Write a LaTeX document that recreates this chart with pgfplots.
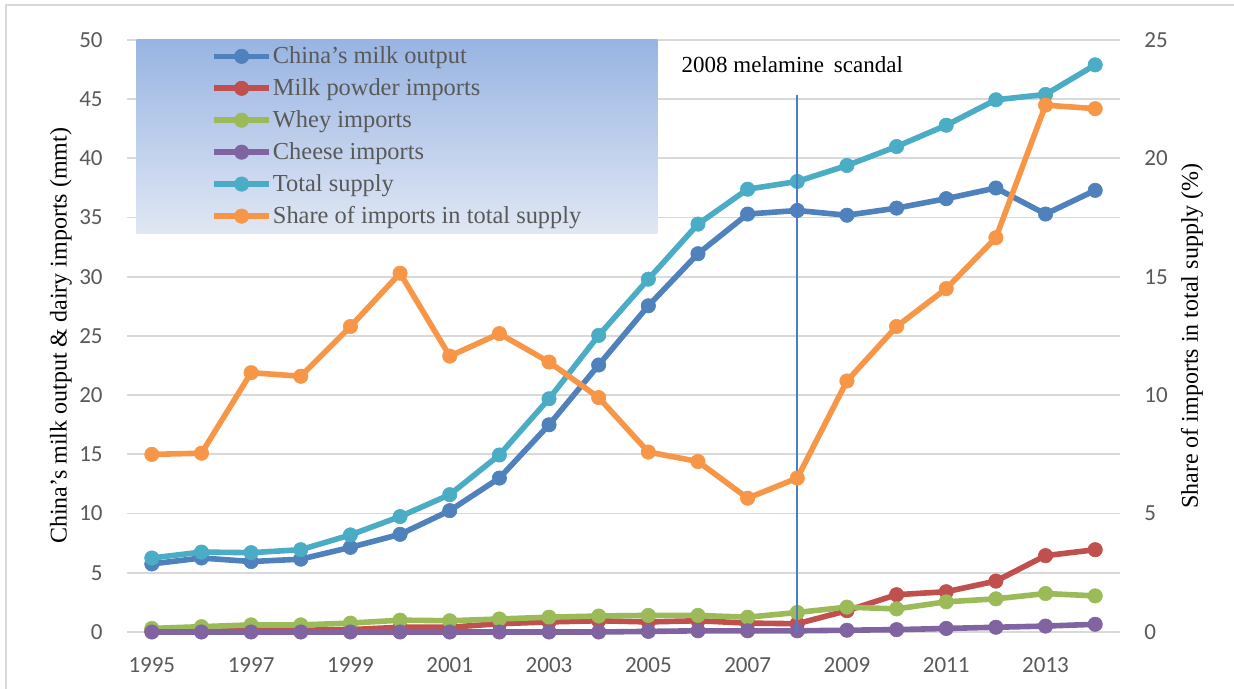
\documentclass[border=0pt]{standalone}
\usepackage{pgfplots}
\pgfplotsset{compat=1.18}
\usepackage{fontspec}
\setmainfont{Liberation Serif}
\newfontfamily\calibri{Carlito}

\definecolor{cMilk}{HTML}{4F81BD}
\definecolor{cPowder}{HTML}{C0504D}
\definecolor{cWhey}{HTML}{9BBB59}
\definecolor{cCheese}{HTML}{8064A2}
\definecolor{cTotal}{HTML}{4BACC6}
\definecolor{cShare}{HTML}{F79646}
\definecolor{gridgray}{HTML}{D9D9D9}
\definecolor{ticktext}{HTML}{595959}
\definecolor{scandal}{HTML}{4A7EC8}
\definecolor{legtop}{RGB}{152,180,226}
\definecolor{legbot}{RGB}{224,231,244}

% values (mmt); share in %
\pgfplotstableread{
year  milk   powder whey  cheese total  share
1995  5.75   0.10   0.30  0.00   6.25   7.50
1996  6.25   0.10   0.45  0.00   6.75   7.55
1997  5.95   0.15   0.60  0.00   6.70   10.95
1998  6.15   0.15   0.60  0.00   6.95   10.80
1999  7.15   0.20   0.75  0.00   8.20   12.90
2000  8.25   0.40   1.00  0.00   9.75   15.15
2001  10.25  0.40   0.95  0.00   11.60  11.65
2002  13.00  0.70   1.10  0.00   14.95  12.60
2003  17.50  0.85   1.25  0.00   19.70  11.40
2004  22.55  0.95   1.35  0.00   25.05  9.90
2005  27.55  0.85   1.40  0.05   29.80  7.60
2006  31.95  0.95   1.40  0.10   34.45  7.20
2007  35.30  0.75   1.25  0.10   37.40  5.65
2008  35.60  0.70   1.65  0.10   38.05  6.50
2009  35.20  1.80   2.10  0.15   39.40  10.60
2010  35.80  3.15   1.95  0.20   41.00  12.90
2011  36.60  3.40   2.55  0.30   42.80  14.50
2012  37.50  4.30   2.80  0.40   44.95  16.65
2013  35.30  6.45   3.25  0.50   45.40  22.25
2014  37.30  6.95   3.05  0.65   47.90  22.10
}\dairy

\pgfplotsset{
  series/.style={color=#1, line width=2.8pt, mark=*, mark size=3.6pt,
    mark options={solid, line width=0.3pt, fill=#1}},
  common/.style={
    scale only axis, width=496.5pt, height=296pt,
    xmin=1994.5, xmax=2014.5,
    axis line style={draw=none}, tick style={draw=none},
    ticklabel style={font=\calibri\fontsize{11.5}{13}\selectfont, text=ticktext, inner sep=0pt},
    /pgf/number format/assume math mode=true,
    /pgf/number format/1000 sep={},
    clip=false,
  },
}

\begin{document}
\begin{tikzpicture}
\useasboundingbox (-63.5pt,-28.5pt) rectangle (553.5pt,316pt);
\draw[gridgray, line width=1pt] (-60.5pt,-60pt) rectangle (600pt,313.5pt);

\begin{axis}[common,
    ymin=0, ymax=50, ytick={0,5,...,50},
    xtick={1995,1997,...,2013},
    ymajorgrids, major grid style={gridgray, line width=0.9pt},
    yticklabel style={anchor=east, xshift=-12pt},
    xticklabel style={anchor=north, yshift=-12.5pt},
  ]
  \addplot[series=cMilk]   table[x=year, y=milk]   {\dairy};
  \addplot[series=cPowder] table[x=year, y=powder] {\dairy};
  \addplot[series=cWhey]   table[x=year, y=whey]   {\dairy};
  \addplot[series=cCheese] table[x=year, y=cheese] {\dairy};
  \addplot[series=cTotal]  table[x=year, y=total]  {\dairy};
\end{axis}

\begin{axis}[common,
    ymin=0, ymax=25, ytick={0,5,...,25},
    xtick=\empty, yticklabel pos=right,
    yticklabel style={anchor=west, xshift=12pt},
    legend cell align=left,
    legend image code/.code={\draw[mark repeat=2, mark phase=2, #1]
      plot coordinates {(0pt,0pt) (13.75pt,0pt) (27.5pt,0pt)};},
    legend style={at={(axis description cs:0.009,1.0017)}, anchor=north west,
      draw=none, top color=legtop, bottom color=legbot,
      font=\fontsize{12.2}{14}\selectfont, text=ticktext,
      inner xsep=37.5pt, inner ysep=3pt, row sep=5pt,
      nodes={inner sep=0.5pt, font=\fontsize{12.2}{14}\selectfont}},
  ]
  \addlegendimage{series=cMilk}   \addlegendentry{China's milk output}
  \addlegendimage{series=cPowder} \addlegendentry{Milk powder imports}
  \addlegendimage{series=cWhey}   \addlegendentry{Whey imports}
  \addlegendimage{series=cCheese} \addlegendentry{Cheese imports}
  \addlegendimage{series=cTotal}  \addlegendentry{Total supply}
  \addplot[series=cShare] table[x=year, y=share] {\dairy};
  \addlegendentry{Share of imports in total supply}
  \addplot[scandal, line width=1pt, forget plot] coordinates {(2008,0) (2008,22.68)};
  \node[font=\fontsize{11.5}{14}\selectfont] at (axis cs:2007.9,23.95) {2008 melamine\hspace{2pt} scandal};
\end{axis}

% axis titles
\node[rotate=90, font=\fontsize{12}{14}\selectfont] at (-33pt,148pt)
  {China's milk output \& dairy imports (mmt)};
\node[rotate=90, font=\fontsize{12}{14}\selectfont] at (532.5pt,148pt)
  {Share of imports in total supply (\%)};
\end{tikzpicture}
\end{document}
